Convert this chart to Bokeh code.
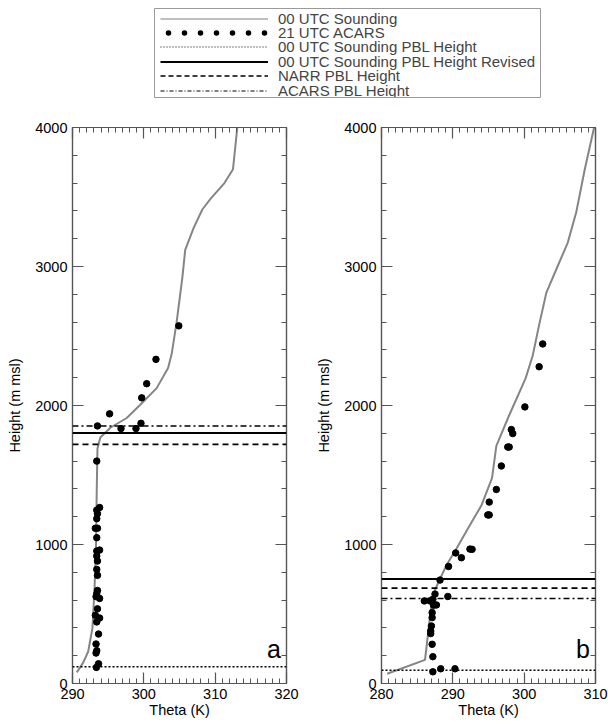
from bokeh.plotting import figure
from bokeh.models import (LinearAxis, Span, Label, Legend, LegendItem, Range1d,
                          FixedTicker, ColumnDataSource, CustomJSTickFormatter)
from bokeh.layouts import column, row
from bokeh.embed import file_html
from bokeh.resources import INLINE

# ---------------- data ----------------
# Panel a: 00 UTC sounding (theta K, height m msl)
snd_a_theta = [290.6, 291.5, 292.2, 292.8, 293.1, 293.3, 293.4, 293.5, 293.9, 295.3,
               297.6, 299.5, 301.8, 303.4, 303.9, 304.6, 305.4, 305.8, 307.0, 308.2,
               309.4, 311.3, 312.5, 313.1]
snd_a_height = [80, 150, 230, 400, 700, 1000, 1400, 1690, 1770, 1840,
                1910, 2005, 2125, 2270, 2370, 2600, 2920, 3120, 3280, 3410,
                3490, 3600, 3700, 4000]
# Panel a: 21 UTC ACARS
acars_a_theta = [293.4, 293.5, 295.2, 296.8, 298.9, 299.6, 299.7, 300.4, 301.7, 304.9,
                 293.8, 293.4, 293.5, 293.4, 293.5, 293.2, 293.4, 293.8, 293.4, 293.4,
                 293.5, 293.4, 293.5, 293.5, 293.4, 293.8, 293.3, 293.5, 293.2, 293.8,
                 293.4, 293.65, 293.3, 293.4, 293.3, 293.65, 293.35]
acars_a_height = [1600, 1853, 1940, 1834, 1834, 1872, 2055, 2157, 2332, 2573,
                  1266, 1247, 1222, 1186, 1117, 1117, 1049, 960, 953, 917,
                  881, 821, 778, 669, 645, 612, 625, 537, 491, 471,
                  443, 356, 284, 236, 219, 142, 116]
# Panel a: PBL heights (m)
pbl_a_sounding = 120
pbl_a_revised = 1803
pbl_a_narr = 1721
pbl_a_acars = 1853

# Panel b: 00 UTC sounding
snd_b_theta = [280.8, 286.1, 286.6, 286.9, 287.3, 288.0, 289.1, 290.5, 292.4, 294.0,
               295.5, 296.1, 297.9, 300.2, 301.2, 302.1, 303.1, 304.3, 306.1, 307.3,
               308.5, 309.8]
snd_b_height = [70, 170, 390, 530, 650, 730, 850, 970, 1140, 1280,
                1480, 1710, 1930, 2195, 2360, 2580, 2810, 2955, 3170, 3390,
                3700, 4000]
# Panel b: 21 UTC ACARS
acars_b_theta = [287.2, 288.3, 290.3, 287.2, 287.1, 286.9, 286.9, 287.0, 287.1, 287.1,
                 287.3, 287.7, 286.0, 286.8, 287.2, 287.5, 289.3, 288.2, 289.4, 290.4,
                 291.2, 292.4, 292.7, 294.9, 295.1, 295.1, 296.1, 296.8, 297.7, 297.9,
                 298.2, 298.4, 300.1, 302.1, 302.6]
acars_b_height = [84, 106, 106, 193, 282, 359, 378, 414, 474, 510,
                  563, 565, 594, 594, 606, 643, 626, 744, 842, 939,
                  905, 967, 965, 1213, 1213, 1305, 1396, 1565, 1701, 1701,
                  1827, 1798, 1990, 2279, 2443]
pbl_b_sounding = 95
pbl_b_revised = 751
pbl_b_narr = 686
pbl_b_acars = 611

x_range_a = (290, 320)
x_range_b = (280, 310)
x_ticks_a = [290, 300, 310, 320]
x_ticks_b = [280, 290, 300, 310]
y_ticks = [0, 1000, 2000, 3000, 4000]

legend_labels = ["00 UTC Sounding", "21 UTC ACARS", "00 UTC Sounding PBL Height",
                 "00 UTC Sounding PBL Height Revised", "NARR PBL Height", "ACARS PBL Height"]

# ---------------- styles ----------------
FONT = "Liberation Sans"
AXC = "#555555"
SND_COLOR = "#858585"
PBL_STYLES = {
    "sounding": dict(line_color="black", line_width=1.5, line_dash="2 2"),
    "revised": dict(line_color="black", line_width=2.0, line_dash="solid"),
    "narr": dict(line_color="black", line_width=1.8, line_dash="6 4"),
    "acars": dict(line_color="black", line_width=1.4, line_dash="6 3 2 3"),
}


def style_axis(ax, labels=True):
    ax.major_tick_in = 11
    ax.major_tick_out = 0
    ax.minor_tick_in = 5
    ax.minor_tick_out = 0
    ax.axis_line_color = AXC
    ax.major_tick_line_color = AXC
    ax.minor_tick_line_color = AXC
    ax.axis_line_width = 1.2
    ax.major_tick_line_width = 1.2
    ax.minor_tick_line_width = 1
    if labels:
        ax.major_label_text_font = FONT
        ax.major_label_text_font_size = "14.5px"
        ax.major_label_text_color = "black"
        ax.major_label_standoff = 5
        ax.axis_label_text_font = FONT
        ax.axis_label_text_font_size = "14.5px"
        ax.axis_label_text_font_style = "normal"
        ax.axis_label_text_color = "black"
    else:
        ax.major_label_text_font_size = "0px"
        ax.major_label_standoff = 0
        ax.formatter = CustomJSTickFormatter(code="return ''")


def make_panel(xr, xticks, snd_t, snd_h, ac_t, ac_h, pbls, letter, bl, br):
    p = figure(frame_width=214, frame_height=556, x_range=Range1d(*xr),
               y_range=Range1d(0, 4000), output_backend="svg", toolbar_location=None,
               x_axis_location=None, y_axis_location=None,
               min_border_left=bl, min_border_right=br, min_border_top=17,
               min_border_bottom=41)
    p.grid.visible = False
    p.outline_line_color = AXC
    p.outline_line_width = 1.2
    xt = FixedTicker(ticks=xticks, minor_ticks=list(range(xr[0], xr[1] + 1)))
    yt = FixedTicker(ticks=y_ticks, minor_ticks=list(range(0, 4001, 200)))
    xb = LinearAxis(ticker=xt, axis_label="Theta (K)")
    style_axis(xb)
    xb.axis_label_standoff = 0
    p.add_layout(xb, "below")
    xa = LinearAxis(ticker=xt)
    style_axis(xa, labels=False)
    p.add_layout(xa, "above")
    yl = LinearAxis(ticker=yt, axis_label="Height (m msl)")
    style_axis(yl)
    yl.axis_label_standoff = 9
    p.add_layout(yl, "left")
    yr = LinearAxis(ticker=yt)
    style_axis(yr, labels=False)
    p.add_layout(yr, "right")

    for key in ["sounding", "revised", "narr", "acars"]:
        p.add_layout(Span(location=pbls[key], dimension="width", **PBL_STYLES[key]))

    src_s = ColumnDataSource(dict(x=snd_t, y=snd_h))
    p.line("x", "y", source=src_s, line_color=SND_COLOR, line_width=2)
    src_a = ColumnDataSource(dict(x=ac_t, y=ac_h))
    p.scatter("x", "y", source=src_a, size=6.5, color="black")

    p.add_layout(Label(x=xr[1] - 0.8, y=150, text=letter, text_align="right",
                       text_baseline="bottom", text_font=FONT, text_font_size="25px",
                       text_color="black"))
    return p


pa = make_panel(x_range_a, x_ticks_a, snd_a_theta, snd_a_height, acars_a_theta, acars_a_height,
                dict(sounding=pbl_a_sounding, revised=pbl_a_revised, narr=pbl_a_narr,
                     acars=pbl_a_acars), "a", 72, 14)
pb = make_panel(x_range_b, x_ticks_b, snd_b_theta, snd_b_height, acars_b_theta, acars_b_height,
                dict(sounding=pbl_b_sounding, revised=pbl_b_revised, narr=pbl_b_narr,
                     acars=pbl_b_acars), "b", 81, 13)

# ---------------- legend figure ----------------
# The frame of this small figure is the legend box; its outline is the box border.
LEG_H = 89
lf = figure(frame_width=386, frame_height=LEG_H, x_range=Range1d(0, 1), y_range=Range1d(0, 1),
            output_backend="svg", toolbar_location=None, min_border=0,
            min_border_left=154, min_border_right=68, min_border_top=8, min_border_bottom=13,
            x_axis_location=None, y_axis_location=None)
lf.grid.visible = False
lf.outline_line_color = "#9a9a9a"
lf.outline_line_width = 1
# renderers only used as legend samples (their data lie outside this figure's ranges)
src_leg = ColumnDataSource(dict(x=snd_a_theta, y=snd_a_height))
r1 = lf.line("x", "y", source=src_leg, line_color="#aaaaaa", line_width=1.5)
r2 = lf.line("x", "y", source=src_leg, line_color="black", line_width=5.5,
             line_dash="0 16", line_dash_offset=8, line_cap="round")
r3 = lf.line("x", "y", source=src_leg, line_color="black", line_width=1, line_dash="1 2")
r4 = lf.line("x", "y", source=src_leg, line_color="black", line_width=2)
r5 = lf.line("x", "y", source=src_leg, line_color="black", line_width=1.5, line_dash="5 3")
r6 = lf.line("x", "y", source=src_leg, line_color="black", line_width=1, line_dash="4 2 1 2")
ROW_H = 14.4
ITEM_H = 17
for i, (lab, r) in enumerate(zip(legend_labels, [r1, r2, r3, r4, r5, r6])):
    center_from_top = 10 + ROW_H * i
    leg = Legend(items=[LegendItem(label=lab, renderers=[r])],
                 location=(6, LEG_H - center_from_top - ITEM_H / 2),
                 border_line_color=None, background_fill_color=None, padding=0,
                 spacing=0, glyph_width=108, glyph_height=ITEM_H, label_height=ITEM_H,
                 label_standoff=10, label_text_font=FONT, label_text_font_size="15px",
                 margin=0)
    lf.add_layout(leg, "center")

layout = column(lf, row(pa, pb))
open("out.html", "w").write(file_html(layout, INLINE))
